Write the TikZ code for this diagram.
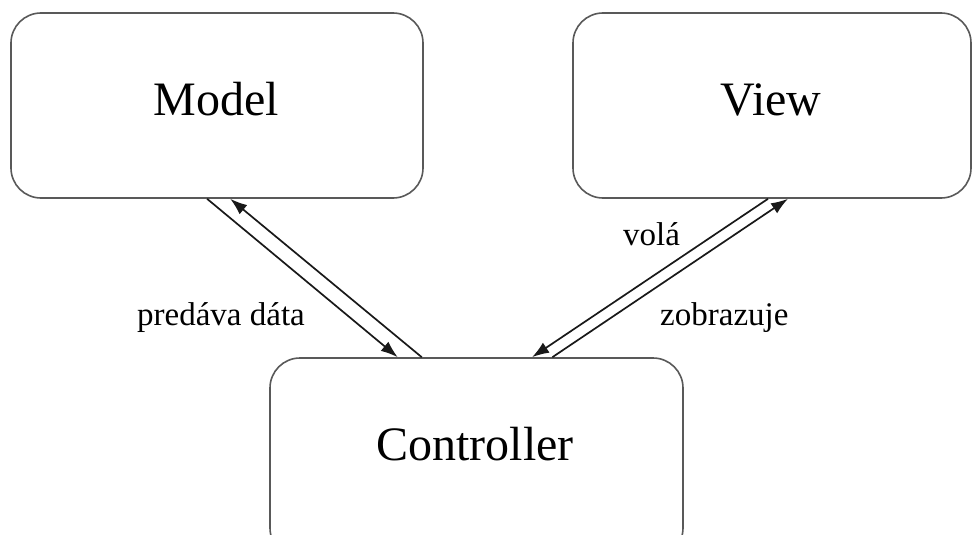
\documentclass[tikz,border=0pt]{standalone}
\usepackage{fontspec}
\setmainfont{Liberation Serif}
\usetikzlibrary{arrows.meta,calc}
\begin{document}
\begin{tikzpicture}[x=1pt,y=-1pt,
  box/.style={draw=black!65,line width=1.6pt,rounded corners=30pt,fill=white,inner sep=0pt},
  boxtext/.style={anchor=base,font=\fontsize{48}{56}\selectfont,inner sep=0pt},
  lab/.style={anchor=base west,font=\fontsize{33}{40}\selectfont,inner sep=0pt},
  conn/.style={line width=1.7pt,draw=black!90,-{Latex[length=17pt,width=12pt]}}]
\useasboundingbox (0,0) rectangle (972,535);
\fill[white] (0,0) rectangle (972,535);
\begin{scope}
\clip (0,0) rectangle (972,535);
\node[box,minimum width=412pt,minimum height=185pt] (model) at (217,105.5) {};
\node[box,minimum width=398pt,minimum height=185pt] (view) at (772,105.5) {};
\node[box,minimum width=413pt,minimum height=200pt] (ctrl) at (476.5,458) {};
\end{scope}
\node[boxtext] (tmodel) at (216,115) {Model};
\node[boxtext] (tview) at (771,115) {View};
\node[boxtext] (tctrl) at (475,460) {Controller};
% connectors
\coordinate (m1) at ($(model.south west)!0.476!(model.south east)$);
\coordinate (m2) at ($(model.south west)!0.532!(model.south east)$);
\coordinate (c1) at ($(ctrl.north west)!0.310!(ctrl.north east)$);
\coordinate (c2) at ($(ctrl.north west)!0.368!(ctrl.north east)$);
\coordinate (c3) at ($(ctrl.north west)!0.634!(ctrl.north east)$);
\coordinate (c4) at ($(ctrl.north west)!0.683!(ctrl.north east)$);
\coordinate (v1) at ($(view.south west)!0.490!(view.south east)$);
\coordinate (v2) at ($(view.south west)!0.540!(view.south east)$);
\draw[conn] (m1) -- (c1);
\draw[conn] (c2) -- (m2);
\draw[conn] (v1) -- (c3);
\draw[conn] (c4) -- (v2);
\node[lab] (lpred) at (137,325) {predáva dáta};
\node[lab] (lvola) at (623,245) {volá};
\node[lab] (lzobr) at (660,325) {zobrazuje};
\end{tikzpicture}
\end{document}
